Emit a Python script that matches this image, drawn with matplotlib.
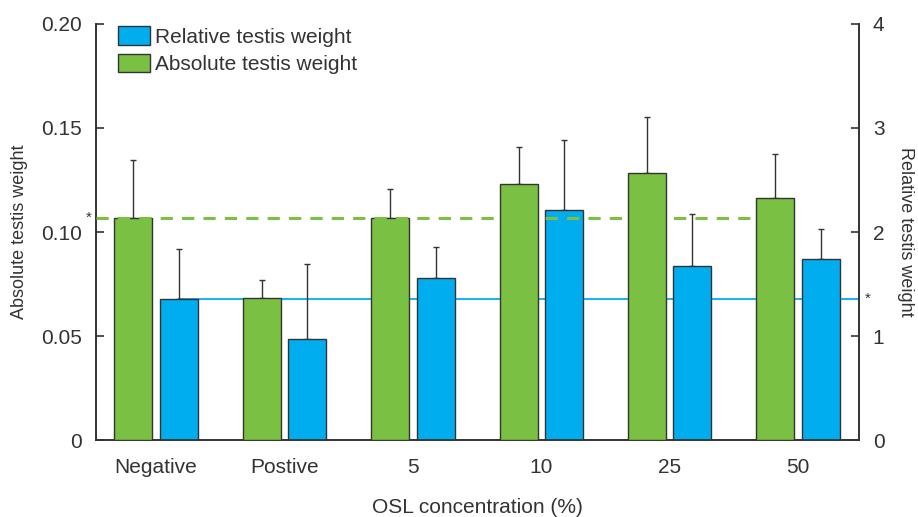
import matplotlib.pyplot as plt
import numpy as np

plt.rcParams['font.family'] = ['Liberation Sans', 'DejaVu Sans']

categories = ['Negative', 'Postive', '5', '10', '25', '50']
absolute = [0.1066, 0.0684, 0.1066, 0.1229, 0.1282, 0.1162]
absolute_sd = [0.0280, 0.0085, 0.0142, 0.0181, 0.0272, 0.0214]
relative = [1.356, 0.968, 1.554, 2.214, 1.673, 1.744]
relative_sd = [0.481, 0.724, 0.305, 0.671, 0.500, 0.282]

green = '#7AC143'
blue = '#00AEEF'
dark = '#333333'

fig = plt.figure(figsize=(9.18, 5.17), dpi=100)
ax = fig.add_axes([0.1043, 0.1489, 0.8314, 0.8047])
ax2 = ax.twinx()

x = np.arange(len(categories))
w = 0.296
off = 0.177

# reference lines (negative control levels)
ax.plot([-0.47, 4.68], [absolute[0], absolute[0]], color=green, lw=2.2,
        ls=(0, (4, 3)), zorder=5)
ax2.plot([off, 5.475], [relative[0], relative[0]], color=blue, lw=1.3, zorder=1)

ax.bar(x - off, absolute, w, color=green, edgecolor=dark, lw=1, zorder=3)
ax.errorbar(x - off, absolute, yerr=[np.zeros(6), absolute_sd], fmt='none',
            ecolor=dark, elinewidth=1, capsize=2.5, capthick=1, zorder=2)
ax2.bar(x + off, relative, w, color=blue, edgecolor=dark, lw=1, zorder=3)
ax2.errorbar(x + off, relative, yerr=[np.zeros(6), relative_sd], fmt='none',
             ecolor=dark, elinewidth=1, capsize=2.5, capthick=1, zorder=2)

ax.set_zorder(ax2.get_zorder() + 1)
ax.patch.set_visible(False)

ax.set_xlim(-0.47, 5.475)
ax.set_ylim(0, 0.20)
ax2.set_ylim(0, 4)
ax.set_xticks(x)
ax.set_xticklabels(categories)
ax.set_yticks([0, 0.05, 0.10, 0.15, 0.20])
ax.set_yticklabels(['0', '0.05', '0.10', '0.15', '0.20'])
ax2.set_yticks([0, 1, 2, 3, 4])

for a in (ax, ax2):
    a.spines['top'].set_visible(False)
    for s in a.spines.values():
        s.set_color(dark)
        s.set_linewidth(1.2)
ax.tick_params(axis='y', direction='in', length=6, width=1.2, colors=dark,
               labelsize=15, pad=10)
ax.tick_params(axis='x', length=0, colors=dark, labelsize=15, pad=13)
ax2.tick_params(axis='y', direction='in', length=6, width=1.2, colors=dark,
                labelsize=15, pad=10)

ax.set_xlabel('OSL concentration (%)', fontsize=15, color=dark, labelpad=15)
ax.set_ylabel('Absolute testis weight', fontsize=13, color=dark, labelpad=9)
ax2.set_ylabel('Relative testis weight', fontsize=13, color=dark, rotation=270,
               labelpad=21)

ax.text(-0.5, absolute[0], '*', ha='right', va='center', fontsize=11, color=dark)
ax2.text(5.52, relative[0], '*', ha='left', va='center', fontsize=11, color=dark)

handles = [plt.Rectangle((0, 0), 1, 1, facecolor=blue, edgecolor=dark, lw=1),
           plt.Rectangle((0, 0), 1, 1, facecolor=green, edgecolor=dark, lw=1)]
ax.legend(handles, ['Relative testis weight', 'Absolute testis weight'],
          loc='upper left', bbox_to_anchor=(0.005, 1.04), frameon=False,
          fontsize=15, handlelength=1.5, handleheight=1.0, handletextpad=0.25,
          labelspacing=0.35, labelcolor=dark)

fig.savefig('out.png', dpi=100)
